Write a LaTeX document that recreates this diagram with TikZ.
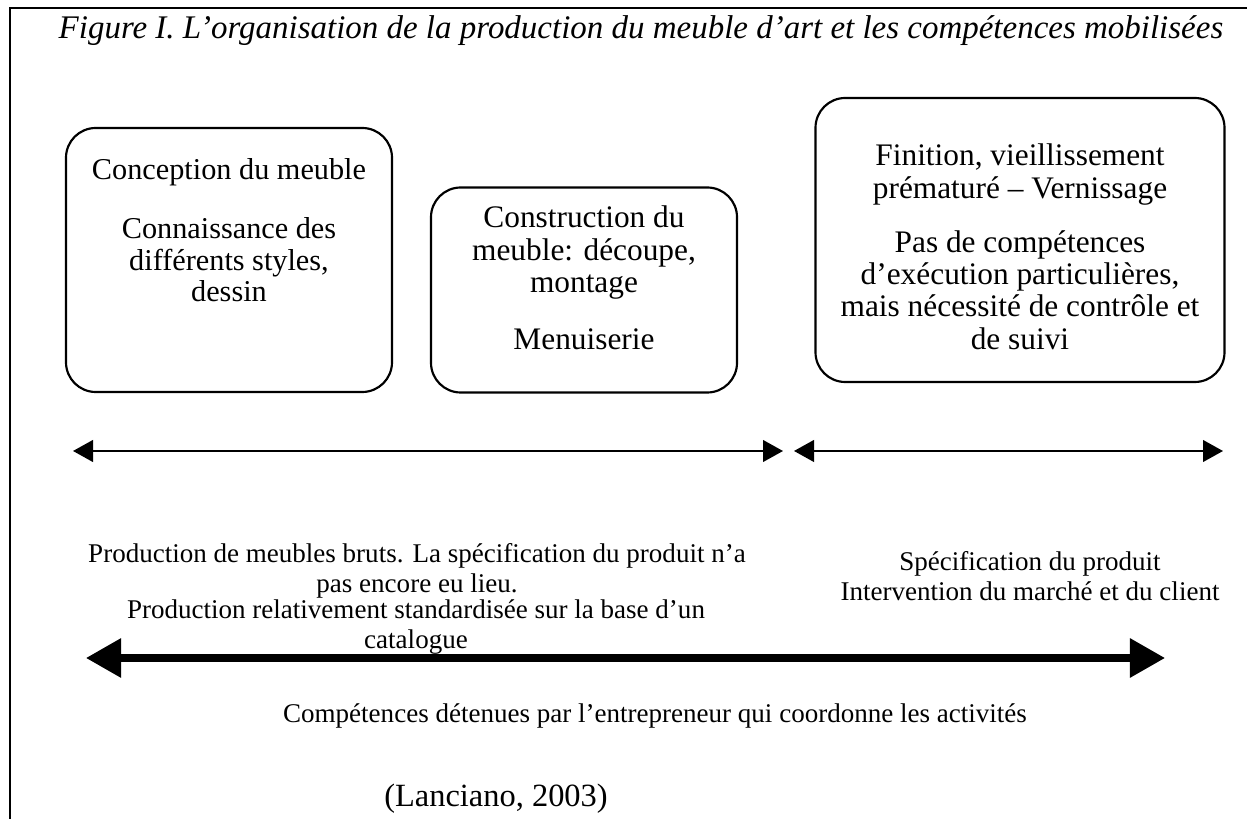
\documentclass[tikz,border=0pt]{standalone}
\usepackage{fontspec}
\setmainfont{Liberation Serif}
\usetikzlibrary{positioning,arrows.meta}

\begin{document}
\begin{tikzpicture}[x=0.37pt,y=-0.37pt,
						boite/.style={draw,rounded corners=11pt,line width=0.8pt,inner sep=0pt},
						texte/.style={align=center,font=\fontsize{11.6}{12}\selectfont,inner sep=0pt},
						petit/.style={align=center,font=\fontsize{10}{11.2}\selectfont,inner sep=0pt},
						fleche/.style={line width=0.8pt,{Triangle[length=7.4pt,width=8pt]}-{Triangle[length=7.4pt,width=8pt]}},
						grosse/.style={line width=2.6pt,{Triangle[length=13pt,width=14pt]}-{Triangle[length=13pt,width=14pt]}}]
		\useasboundingbox (0,0) rectangle (1247,819);
		\draw[line width=1.1pt] (10,819) -- (10,8) -- (1247,8);

		\node[texte,font=\fontsize{12.2}{14}\selectfont\itshape]	(titre)	at (641,31)	{Figure I. L'organisation de la production du meuble d'art et les compétences mobilisées};

		\node[boite,minimum width=326*0.37pt,minimum height=264*0.37pt]	(b1)	at (229,260)	{};
		\node[boite,minimum width=306*0.37pt,minimum height=205*0.37pt]	(b2)	at (584,290)	{};
		\node[boite,minimum width=409*0.37pt,minimum height=284*0.37pt]	(b3)	at (1020,240)	{};

		\node[texte,font=\fontsize{11.2}{11.8}\selectfont,yshift=11pt]	(t1)	at (b1)	{Conception du meuble\\[10pt]Connaissance des\\différents styles,\\dessin};
		\node[texte,yshift=4.5pt]	(t2)	at (b2)	{Construction du\\meuble: découpe,\\montage\\[9pt]Menuiserie};
		\node[texte,yshift=-2.5pt]	(t3)	at (b3)	{Finition, vieillissement\\prématuré -- Vernissage\\[8pt]Pas de compétences\\d'exécution particulières,\\mais nécessité de contrôle et\\de suivi};

		\coordinate	(a1)	at (73,451);
		\coordinate	(a2)	at (783,451);
		\coordinate	(a3)	at (794,451);
		\coordinate	(a4)	at (1223,451);
		\coordinate	(g1)	at (86,658);
		\coordinate	(g2)	at (1165,658);
		\draw[fleche] (a1) -- (a2);
		\draw[fleche] (a3) -- (a4);
		\draw[grosse] (g1) -- (g2);

		\node[petit]	(p1)	at (417,571)	{Production de meubles bruts. La spécification du produit n'a\\pas encore eu lieu.};
		\node[petit]	(p2)	at (1030,576)	{Spécification du produit\\Intervention du marché et du client};
		\node[petit]	(p3)	at (416,627)	{Production relativement standardisée sur la base d'un\\catalogue};
		\node[petit]	(p4)	at (655,716)	{Compétences détenues par l'entrepreneur qui coordonne les activités};
		\node[texte,font=\fontsize{12}{14}\selectfont]	(src)	at (496,799)	{(Lanciano, 2003)};
	\end{tikzpicture}
\end{document}
